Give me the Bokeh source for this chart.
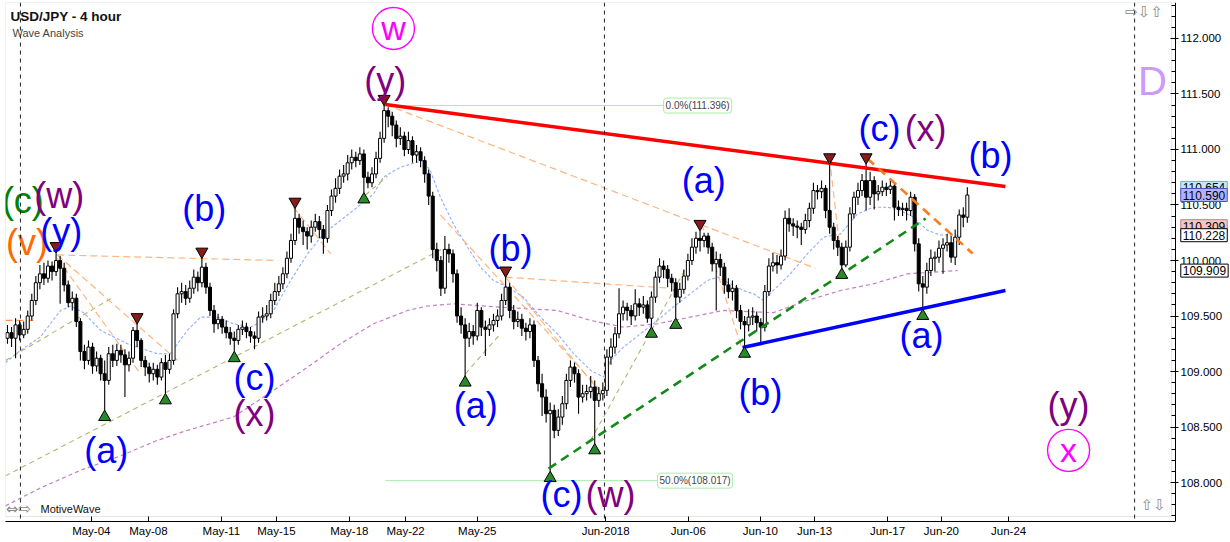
from bokeh.plotting import figure
from bokeh.models import (Range1d, FixedTicker, SingleIntervalTicker, NumeralTickFormatter,
                          Span, Label, BoxAnnotation, ColumnDataSource)
from bokeh.core.properties import value
from bokeh.embed import file_html
from bokeh.resources import INLINE

# ---------------- data (USD/JPY 4h candles) ----------------
closes = [109.35,109.30,109.42,109.33,109.38,109.50,109.64,109.80,109.88,109.84,
          109.95,109.90,110.00,109.93,109.78,109.62,109.66,109.45,109.18,109.10,
          109.22,109.05,109.12,108.98,108.92,109.16,109.10,109.19,109.15,109.06,
          109.12,109.37,109.28,109.10,109.04,108.98,109.02,108.95,109.08,109.02,
          109.10,109.52,109.70,109.72,109.66,109.75,109.85,109.80,109.94,109.76,
          109.55,109.43,109.47,109.40,109.35,109.30,109.28,109.38,109.40,109.36,
          109.32,109.30,109.49,109.50,109.52,109.64,109.72,109.79,109.88,110.02,
          110.18,110.38,110.30,110.26,110.22,110.30,110.35,110.28,110.20,110.45,
          110.58,110.65,110.76,110.78,110.88,110.93,110.90,110.96,110.75,110.70,
          110.78,110.92,111.10,111.35,111.30,111.22,111.10,111.12,111.00,111.08,
          110.95,110.98,110.90,110.78,110.58,110.10,110.00,109.75,110.10,110.06,
          109.88,109.50,109.42,109.30,109.36,109.32,109.55,109.40,109.38,109.42,
          109.46,109.50,109.64,109.76,109.55,109.45,109.47,109.39,109.36,109.42,
          109.10,108.89,108.77,108.62,108.65,108.47,108.59,108.71,108.92,109.04,
          108.98,108.77,108.80,108.82,108.86,108.74,108.80,108.83,109.13,109.22,
          109.34,109.52,109.58,109.55,109.50,109.61,109.58,109.60,109.48,109.67,
          109.85,109.95,109.92,109.84,109.80,109.67,109.74,109.86,110.00,110.12,
          110.20,110.18,110.22,110.12,109.97,110.01,109.94,109.78,109.72,109.75,
          109.55,109.45,109.42,109.49,109.50,109.44,109.40,109.72,109.95,109.98,
          109.96,110.04,110.38,110.33,110.31,110.30,110.28,110.36,110.47,110.63,
          110.62,110.65,110.45,110.30,110.18,110.12,109.96,110.12,110.42,110.57,
          110.63,110.72,110.57,110.72,110.60,110.62,110.66,110.64,110.67,110.48,
          110.46,110.47,110.45,110.57,110.15,109.79,109.76,109.91,110.02,110.03,
          110.11,110.14,110.16,110.03,110.21,110.41,110.39,110.59]
highs = [109.42,109.40,109.48,109.46,109.45,109.55,109.70,109.86,109.96,109.98,
         110.00,109.99,110.07,110.04,109.98,109.82,109.72,109.70,109.48,109.24,
         109.28,109.26,109.18,109.15,109.10,109.22,109.24,109.25,109.24,109.20,
         109.18,109.40,109.43,109.30,109.14,109.08,109.08,109.06,109.12,109.15,
         109.16,109.56,109.76,109.80,109.78,109.82,109.92,109.90,110.02,109.98,
         109.80,109.60,109.52,109.50,109.46,109.40,109.36,109.42,109.46,109.44,
         109.40,109.36,109.54,109.58,109.60,109.70,109.80,109.86,109.94,110.08,
         110.24,110.47,110.42,110.36,110.30,110.36,110.42,110.40,110.32,110.50,
         110.64,110.74,110.82,110.86,110.95,111.00,110.98,111.02,111.00,110.80,
         110.84,110.98,111.16,111.396,111.38,111.34,111.26,111.20,111.16,111.16,
         111.12,111.04,111.02,110.94,110.82,110.62,110.16,110.04,110.22,110.15,
         110.10,109.92,109.58,109.48,109.44,109.42,109.62,109.58,109.46,109.48,
         109.52,109.56,109.70,109.85,109.80,109.60,109.54,109.52,109.44,109.48,
         109.46,109.14,108.98,108.84,108.72,108.70,108.66,108.78,108.98,109.10,
         109.08,109.02,108.88,108.88,108.96,108.92,108.86,108.90,109.20,109.30,
         109.40,109.75,109.64,109.62,109.60,109.74,109.66,109.68,109.64,109.72,
         109.90,110.02,110.00,109.96,109.88,109.84,109.80,109.92,110.06,110.20,
         110.26,110.27,110.25,110.25,110.16,110.08,110.06,109.98,109.84,109.82,
         109.78,109.60,109.50,109.56,109.58,109.54,109.48,109.78,110.02,110.07,
         110.05,110.10,110.45,110.47,110.38,110.36,110.34,110.42,110.52,110.70,
         110.68,110.72,110.68,110.87,110.34,110.22,110.16,110.18,110.48,110.62,
         110.70,110.78,110.87,110.80,110.76,110.68,110.72,110.70,110.72,110.70,
         110.54,110.52,110.52,110.62,110.60,110.20,109.86,109.98,110.10,110.08,
         110.18,110.20,110.24,110.22,110.28,110.46,110.48,110.66]
lows = [109.25,109.22,109.12,109.28,109.30,109.34,109.46,109.60,109.74,109.78,
        109.80,109.82,109.86,109.61,109.72,109.58,109.55,109.40,109.10,109.02,
        109.06,108.98,109.00,108.92,108.65,108.88,109.04,109.05,109.08,108.77,
        109.00,109.08,109.22,109.04,108.96,108.90,108.92,108.88,108.92,108.80,
        108.98,109.06,109.48,109.62,109.60,109.62,109.70,109.72,109.76,109.70,
        109.50,109.35,109.38,109.34,109.30,109.24,109.18,109.24,109.33,109.30,
        109.26,109.20,109.26,109.44,109.46,109.48,109.60,109.68,109.74,109.84,
        109.98,110.14,110.24,110.14,110.10,110.16,110.26,110.20,110.06,110.16,
        110.40,110.52,110.60,110.70,110.72,110.82,110.84,110.86,110.61,110.65,
        110.66,110.74,110.88,111.06,111.20,111.12,111.02,111.04,110.94,110.96,
        110.88,110.88,110.84,110.70,110.50,110.02,109.90,109.68,109.70,109.98,
        109.80,109.44,109.34,108.96,109.22,109.24,109.28,109.32,109.14,109.32,
        109.36,109.40,109.46,109.60,109.48,109.38,109.40,109.32,109.28,109.30,
        109.04,108.82,108.60,108.54,108.10,108.40,108.42,108.52,108.66,108.86,
        108.90,108.62,108.72,108.74,108.76,108.35,108.68,108.74,108.78,109.06,
        109.16,109.30,109.46,109.46,109.42,109.46,109.50,109.52,109.44,109.40,
        109.62,109.80,109.84,109.76,109.72,109.48,109.62,109.70,109.82,109.96,
        110.06,110.08,110.12,110.06,109.90,109.55,109.86,109.70,109.66,109.64,
        109.48,109.38,109.22,109.36,109.42,109.36,109.25,109.36,109.68,109.90,
        109.88,109.92,110.00,110.26,110.22,110.20,110.14,110.24,110.30,110.42,
        110.55,110.56,110.38,110.24,110.10,110.04,109.93,109.94,110.08,110.38,
        110.50,110.58,110.45,110.50,110.46,110.54,110.58,110.58,110.60,110.36,
        110.40,110.40,110.36,110.40,110.08,109.72,109.56,109.70,109.86,109.90,
        109.98,109.88,110.08,109.98,109.96,110.14,110.30,110.34]
opens = [109.30] + closes[:-1]   # FX bars open at the prior close

tick_pos = [20.7, 34.8, 52.8, 66.4, 84.4, 98.3, 116.0, 147.7, 168.1, 185.9, 199.3, 217.3, 230.6, 247.2]
tick_labels = ["May-04", "May-08", "May-11", "May-15", "May-18", "May-22", "May-25",
               "Jun-2018", "Jun-06", "Jun-10", "Jun-13", "Jun-17", "Jun-20", "Jun-24"]

# moving averages
ma_fast_x = [-0.5,3.2,8.1,13.1,15.6,18.8,23,29.6,37,40.2,44.4,47.7,51.9,55.8,60,61.7,65.7,69.9,74.1,78,
             82.2,86.4,90.4,92.8,97,102.5,104.4,106.9,110.1,113.6,116.8,120,123.5,127.4,131.6,135.8,
             139.8,144,147.2,148.9,152.1,156.3,160.5,164.4,168.6,172.8,175.3,178.5,181.7,184.2,186.7,
             189.1,193.3,197.5,201.5,205.7,209.9,213.8,217.3,220.5,223.7,227.2,230.4,234.6]
ma_fast_y = [109.08,109.19,109.31,109.55,109.59,109.53,109.37,109.25,109.16,109.16,109.37,109.49,109.49,
             109.43,109.40,109.43,109.55,109.82,110.06,110.24,110.36,110.48,110.60,110.75,110.84,110.90,
             110.81,110.57,110.33,110.12,109.94,109.82,109.76,109.67,109.49,109.34,109.16,109.01,108.95,
             109.10,109.22,109.34,109.46,109.58,109.70,109.82,109.85,109.79,109.73,109.70,109.64,109.73,
             109.88,110.06,110.21,110.24,110.42,110.48,110.48,110.45,110.39,110.27,110.23,110.228]
ma_slow_x = [-0.5,8.1,18,27.9,37,44.4,55.8,65.7,74.1,82.2,90.4,98.8,103.7,110.1,121.7,135.8,144,152.1,
             160.5,168.6,176.8,189.1,197.5,205.7,213.8,222.2,234.6]
ma_slow_y = [107.79,107.95,108.11,108.24,108.38,108.47,108.59,108.83,109.04,109.25,109.43,109.55,109.59,
             109.61,109.58,109.55,109.46,109.40,109.43,109.49,109.55,109.53,109.64,109.73,109.79,109.88,109.909]

# wave-structure lines (bar index, price)
olive_segs = [(-0.5,108.06,107.7,110.11), (-0.5,109.10,26.2,109.67), (88.4,110.59,93.8,110.76),
              (113.1,108.98,121.7,109.34), (144.0,108.38,169.9,110.09)]
peach_segs = [(12.3,110.05,66.7,110.00), (12.3,110.05,42.0,109.10), (12.3,110.02,32.8,108.98),
              (70.6,110.48,79.8,110.06), (93.3,111.405,171.4,110.32), (106.9,110.41,146.4,108.83),
              (123.0,109.85,163.7,109.75), (171.4,110.32,199.5,109.93), (171.4,110.33,181.5,109.19),
              (203.0,110.92,206.2,109.89), (123.0,109.85,146.4,108.81)]
red_line = ([93.3, 246.4], [111.405, 110.667])
blue_line = ([181.5, 246.4], [109.216, 109.73])
green_line = ([133.6, 226.7], [108.126, 110.378])
orange_line = ([212.3, 238.3], [110.919, 110.063])

top_idx = [12, 32, 48, 71, 93, 123, 171, 203, 212]
bot_idx = [24, 39, 56, 88, 113, 134, 145, 159, 165, 182, 206, 226]

fib_high = 111.396
fib_50 = 108.017

BLUE, PURPLE, GREEN, ORANGE = "#0000ff", "#800080", "#008000", "#ff6a00"
wave_x = [3.8, 12.8, 4.8, 13.3, 48.6, 24.4, 61.0, 61.0, 93.3, 115.6, 124.2, 136.8, 148.9,
          171.9, 185.9, 215.3, 226.7, 242.7, 225.7, 262.0]
wave_y = [110.54, 110.59, 110.16, 110.26, 110.47, 108.29, 108.95, 108.62, 111.62, 108.69, 110.11,
          107.89, 107.89, 110.72, 108.81, 111.19, 111.19, 110.95, 109.32, 108.69]
wave_t = ["(c)", "(w)", "(v)", "(y)", "(b)", "(a)", "(c)", "(x)", "(y)", "(a)", "(b)", "(c)", "(w)",
          "(a)", "(b)", "(c)", "(x)", "(b)", "(a)", "(y)"]
wave_c = [GREEN, PURPLE, ORANGE, BLUE, BLUE, BLUE, BLUE, PURPLE, PURPLE, BLUE, BLUE, BLUE, PURPLE,
          BLUE, BLUE, BLUE, PURPLE, BLUE, BLUE, PURPLE]
circ_x = [95.3, 262.0]
circ_y = [112.09, 108.29]
circ_t = ["w", "x"]

tag_vals = [110.654, 110.590, 110.309, 110.228, 109.909]
tag_fill = ["#c4e8f6", "#b0b4ff", "#f6c4c4", "#ffffff", "#ffffff"]
tag_line = ["#7aa8c0", "#5050c0", "#c08080", "#000000", "#000000"]

AXIS_X = 288.4     # bar-index position of the price axis line

# ---------------- figure ----------------
p = figure(width=1230, height=542, output_backend="svg", toolbar_location=None,
           x_range=Range1d(-0.49, 301.98), y_range=Range1d(107.649, 112.324),
           y_axis_location="right", min_border_left=5, min_border_top=2,
           min_border_right=0, min_border_bottom=21)
p.xgrid.visible = False
p.ygrid.visible = False
p.outline_line_color = None
p.background_fill_color = "white"
p.border_fill_color = "white"

xa = p.xaxis[0]
xa.ticker = FixedTicker(ticks=tick_pos)
xa.major_label_overrides = dict(zip(tick_pos, tick_labels))
xa.bounds = (-0.49, AXIS_X)
xa.major_tick_in = 5
xa.major_tick_out = 0
xa.minor_tick_line_color = None
xa.major_label_standoff = 3
xa.major_label_text_font = "Liberation Sans"
xa.major_label_text_font_size = "11.5px"
xa.major_label_text_color = "black"
xa.axis_line_color = "black"

ya = p.yaxis[0]
ya.fixed_location = AXIS_X
ya.ticker = SingleIntervalTicker(interval=0.5, num_minor_ticks=5)
ya.formatter = NumeralTickFormatter(format="0.000")
ya.major_tick_in = 5
ya.major_tick_out = 3
ya.minor_tick_in = 4
ya.minor_tick_out = 0
ya.major_label_standoff = 2
ya.major_label_text_font = "Liberation Sans"
ya.major_label_text_font_size = "11.5px"
ya.major_label_text_color = "black"
ya.axis_line_color = "black"

# inner gray frame
p.add_layout(BoxAnnotation(left=-0.49, right=287.4, bottom=107.694, top=112.324,
                           fill_alpha=0, line_color="#a8a8a0", line_width=1, level="underlay"))

for loc in [3.2, 147.4, 278.3]:
    p.add_layout(Span(location=loc, dimension="height", line_color="#222222",
                      line_dash="4 4", line_width=1))

# fib lines
p.line([93.3, 162.0], [fib_high, fib_high], line_color="#a8eea8", line_width=1)
p.line([93.3, 160.5], [fib_50, fib_50], line_color="#a8eea8", line_width=1)

# MAs and thin lines
p.line(ma_slow_x, ma_slow_y, line_color="#c070c0", line_dash="4 3", line_width=1.2, line_alpha=0.9)
p.line(ma_fast_x, ma_fast_y, line_color="#7ea6ff", line_dash="3 2", line_width=1.1, line_alpha=0.9)
p.segment(x0=[s[0] for s in olive_segs], y0=[s[1] for s in olive_segs],
          x1=[s[2] for s in olive_segs], y1=[s[3] for s in olive_segs],
          line_color="#b5b46a", line_dash="5 4", line_width=1.1)
p.segment(x0=[s[0] for s in peach_segs], y0=[s[1] for s in peach_segs],
          x1=[s[2] for s in peach_segs], y1=[s[3] for s in peach_segs],
          line_color="#ffa868", line_dash="7 4", line_width=1.2, line_alpha=0.85)
p.line([-0.5, 6.4], [109.46, 109.46], line_color="#ff9050", line_width=1.2, line_dash="7 4")

# candles
idx = list(range(len(closes)))
p.segment(x0=idx, y0=lows, x1=idx, y1=highs, line_color="black", line_width=1.1)
ux = [i for i in idx if closes[i] >= opens[i]]
dx = [i for i in idx if closes[i] < opens[i]]
p.vbar(x=ux, width=0.75, top=[closes[i] for i in ux], bottom=[opens[i] for i in ux],
       fill_color="white", line_color="black", line_width=1)
p.vbar(x=dx, width=0.75, top=[opens[i] for i in dx], bottom=[closes[i] for i in dx],
       fill_color="black", line_color="black", line_width=1)

# thick trend lines
p.line(*red_line, line_color="#ff0000", line_width=3.5)
p.line(*blue_line, line_color="#0000ff", line_width=3.5)
p.line(*green_line, line_color="#118a1a", line_width=2.6, line_dash="9 6")
p.line(*orange_line, line_color="#ff7a1a", line_width=2.6, line_dash="9 6")

# pivot markers
p.scatter(x=top_idx, y=[highs[i] + 0.06 for i in top_idx], marker="inverted_triangle", size=12,
          fill_color="#8b1a1a", line_color="black", line_width=1)
p.scatter(x=bot_idx, y=[lows[i] - 0.06 for i in bot_idx], marker="triangle", size=12,
          fill_color="#2a8a2a", line_color="black", line_width=1)

# wave labels
wsrc = ColumnDataSource(dict(x=wave_x, y=wave_y, t=wave_t, c=wave_c))
p.text(x="x", y="y", text="t", text_color="c", source=wsrc, text_font=value("Liberation Sans"),
       text_font_size="36px", text_align="center", text_baseline="middle")
p.text(x=circ_x, y=circ_y, text=circ_t, text_color="#ff00ff", text_font=value("Liberation Sans"),
       text_font_size="34px", text_align="center", text_baseline="middle")
p.scatter(x=circ_x, y=circ_y, marker="circle", size=42, fill_color=None,
          line_color="#ff00ff", line_width=1.4)
p.text(x=[282.7], y=[111.62], text=["D"], text_color="#cc99ff", text_font=value("Liberation Sans"),
       text_font_size="40px", text_align="center", text_baseline="middle")

# fib labels
for xv, yv, txt in [(162.0, fib_high, "0.0%(111.396)"), (160.5, fib_50, "50.0%(108.017)")]:
    p.add_layout(Label(x=xv, y=yv, text=txt, text_font="Liberation Sans", text_font_size="10px",
                       text_baseline="middle", background_fill_color="white",
                       border_line_color="#a8eea8", padding=2, border_radius=3))

# titles
p.add_layout(Label(x=0.74, y=112.198, text="USD/JPY - 4 hour", text_font="Liberation Sans",
                   text_font_size="13.5px", text_font_style="bold", text_baseline="middle",
                   text_color="#111111"))
p.add_layout(Label(x=1.23, y=112.045, text="Wave Analysis", text_font="Liberation Sans",
                   text_font_size="11px", text_baseline="middle", text_color="#444444"))
p.add_layout(Label(x=8.15, y=107.765, text="MotiveWave", text_font="Liberation Sans",
                   text_font_size="11px", text_baseline="middle", text_color="#111111"))
for xv, yv, txt in [(-0.4, 107.765, "\u21d4\u21e8"), (276.0, 112.234, "\u21e8\u21e9\u21e7"),
                    (279.8, 107.80, "\u21e7\u21e9")]:
    p.add_layout(Label(x=xv, y=yv, text=txt, text_font="DejaVu Sans", text_font_size="15px",
                       text_baseline="middle", text_color="#8a8a8a"))

# price tags on the axis
for v, fc, lc in zip(tag_vals, tag_fill, tag_line):
    p.add_layout(Label(x=289.7, y=v, text=f"{v:.3f}", text_font="Liberation Sans",
                       text_font_size="12px", text_baseline="middle", text_color="black",
                       background_fill_color=fc, border_line_color=lc, padding=2))

open("out.html", "w").write(file_html(p, INLINE))
